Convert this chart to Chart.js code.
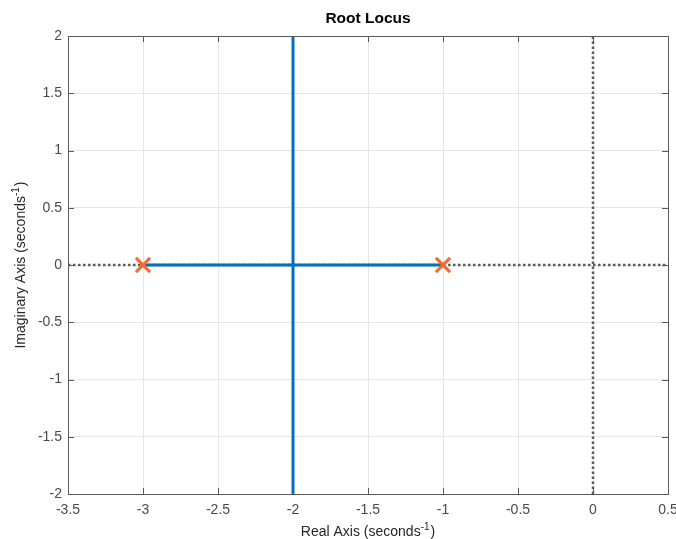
<!DOCTYPE html>
<html>
<head>
<meta charset="utf-8">
<script src="https://cdn.jsdelivr.net/npm/chart.js@4.4.1/dist/chart.umd.min.js"></script>
<style>
  html, body { margin: 0; padding: 0; background: #fff; }
  #wrap { width: 676px; height: 539px; }
</style>
</head>
<body>
<div id="wrap"><canvas id="rlocus" width="676" height="539"></canvas></div>
<script>
// ---- data ----
const xTicks = [-3.5, -3, -2.5, -2, -1.5, -1, -0.5, 0, 0.5];
const yTicks = [-2, -1.5, -1, -0.5, 0, 0.5, 1, 1.5, 2];

// open-loop poles
const poleRe = [-3, -1];
const poleIm = [0, 0];

// locus branches (real segment, then breakaway at -2 going up / down)
const branch1Re = [-3, -2, -2];
const branch1Im = [0, 0, 2];
const branch2Re = [-1, -2, -2];
const branch2Im = [0, 0, -2];

// s-plane axes (dotted)
const realAxisRe = [-3.5, 0.5];
const realAxisIm = [0, 0];
const imagAxisRe = [0, 0];
const imagAxisIm = [-2, 2];

const FONT = 'Helvetica, "Liberation Sans", Arial, sans-serif';
const BLUE = "#0072bd";
const ORANGE = "#f26a2e";
const AXIS = "#5a5a5a";

const pts = (xs, ys) => xs.map((x, i) => ({ x, y: ys[i] }));

// MATLAB-ish box with inward ticks on all four sides + titles
const boxPlugin = {
  id: "matlabBox",
  afterDatasetsDraw(chart) {
    const { ctx, chartArea: a, scales } = chart;
    const tl = 6;
    ctx.save();
    ctx.strokeStyle = AXIS;
    ctx.lineWidth = 1;
    ctx.beginPath();
    xTicks.forEach((v) => {
      const px = Math.round(scales.x.getPixelForValue(v)) + 0.5;
      ctx.moveTo(px, a.bottom); ctx.lineTo(px, a.bottom - tl);
      ctx.moveTo(px, a.top); ctx.lineTo(px, a.top + tl);
    });
    yTicks.forEach((v) => {
      const py = Math.round(scales.y.getPixelForValue(v)) + 0.5;
      ctx.moveTo(a.left, py); ctx.lineTo(a.left + tl, py);
      ctx.moveTo(a.right, py); ctx.lineTo(a.right - tl, py);
    });
    ctx.stroke();
    ctx.strokeRect(Math.round(a.left) + 0.5, Math.round(a.top) + 0.5,
      Math.round(a.right - a.left), Math.round(a.bottom - a.top));
    ctx.restore();
  },
  afterDraw(chart) {
    const { ctx, chartArea: a } = chart;
    ctx.save();
    ctx.fillStyle = "#000";
    ctx.textAlign = "center";
    ctx.textBaseline = "alphabetic";
    ctx.font = "bold 15.5px " + FONT;
    ctx.fillText("Root Locus", (a.left + a.right) / 2, 23);

    ctx.fillStyle = "#262626";
    drawSupLabel(ctx, "Real Axis (seconds", "-1", ")", (a.left + a.right) / 2, 536);
    ctx.translate(25, (a.top + a.bottom) / 2);
    ctx.rotate(-Math.PI / 2);
    drawSupLabel(ctx, "Imaginary Axis (seconds", "-1", ")", 0, 0);
    ctx.restore();
  },
};

function drawSupLabel(ctx, pre, sup, post, cx, baseline) {
  const big = "14px " + FONT, small = "10px " + FONT;
  ctx.font = big;
  const w1 = ctx.measureText(pre).width;
  const w3 = ctx.measureText(post).width;
  ctx.font = small;
  const w2 = ctx.measureText(sup).width + 1;
  let x = cx - (w1 + w2 + w3) / 2;
  ctx.textAlign = "left";
  ctx.font = big;
  ctx.fillText(pre, x, baseline);
  x += w1;
  ctx.font = small;
  ctx.fillText(sup, x, baseline - 6);
  x += w2;
  ctx.font = big;
  ctx.fillText(post, x, baseline);
}

const lineDs = (data, color, width, dash, order) => ({
  data, showLine: true, borderColor: color, borderWidth: width,
  borderDash: dash, pointRadius: 0, pointHoverRadius: 0, fill: false,
  tension: 0, order, borderCapStyle: "butt",
});

new Chart(document.getElementById("rlocus"), {
  type: "scatter",
  data: {
    datasets: [
      {
        data: pts(poleRe, poleIm),
        pointStyle: "crossRot",
        pointRadius: 10,
        pointBorderWidth: 3,
        pointBorderColor: ORANGE,
        pointBackgroundColor: ORANGE,
        order: 0,
      },
      lineDs(pts(branch1Re, branch1Im), BLUE, 3, [], 1),
      lineDs(pts(branch2Re, branch2Im), BLUE, 3, [], 1),
      lineDs(pts(realAxisRe, realAxisIm), "#5c5c5c", 2.5, [2.5, 2.5], 2),
      lineDs(pts(imagAxisRe, imagAxisIm), "#5c5c5c", 2.5, [2.5, 2.5], 2),
    ],
  },
  options: {
    responsive: false,
    animation: false,
    events: [],
    layout: { autoPadding: false, padding: { top: 36, right: 8, left: 0, bottom: 0 } },
    plugins: { legend: { display: false }, tooltip: { enabled: false } },
    scales: {
      x: {
        type: "linear",
        min: -3.5,
        max: 0.5,
        afterBuildTicks: (s) => { s.ticks = xTicks.map((v) => ({ value: v })); },
        afterFit: (s) => {
          s.height = 45;
          s.paddingLeft = 0; s.paddingRight = 0;
        },
        grid: { color: "#e6e6e6", drawTicks: false },
        border: { display: false },
        ticks: {
          color: "#4a4a4a",
          font: { family: FONT, size: 14 },
          padding: 8,
          maxRotation: 0,
          autoSkip: false,
          callback: (v) => String(v),
        },
      },
      y: {
        type: "linear",
        min: -2,
        max: 2,
        afterBuildTicks: (s) => { s.ticks = yTicks.map((v) => ({ value: v })); },
        afterFit: (s) => {
          s.width = 68;
          s.paddingTop = 0; s.paddingBottom = 0;
        },
        grid: { color: "#e6e6e6", drawTicks: false },
        border: { display: false },
        ticks: {
          color: "#4a4a4a",
          font: { family: FONT, size: 14 },
          padding: 6,
          autoSkip: false,
          callback: (v) => String(v),
        },
      },
    },
  },
  plugins: [boxPlugin],
});
</script>
</body>
</html>
